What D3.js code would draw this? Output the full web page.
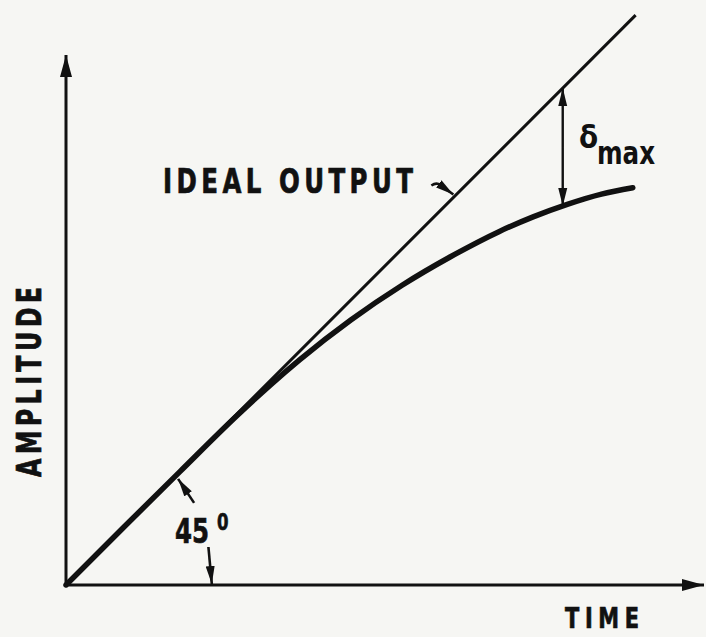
<!DOCTYPE html>
<html>
<head>
<meta charset="utf-8">
<script src="https://cdn.jsdelivr.net/npm/d3@7"></script>
<style>
  body { margin: 0; background: #f6f6f3; }
  svg text { font-family: "DejaVu Sans Condensed", "Liberation Sans Narrow", sans-serif; font-weight: bold; fill: #111; }
</style>
</head>
<body>
<div class="plot-item"></div>
<script>
// time / amplitude in arbitrary units (ideal output is y = x)
var timeVals   = [0, 1, 2, 3, 3.6, 4.1, 5, 5.9, 6.75, 7.6, 8.2, 8.8, 9.4, 9.95];
var actualVals = [0, 1, 1.99, 2.97, 3.52, 3.95, 4.65, 5.26, 5.76, 6.2, 6.46, 6.68, 6.86, 6.97];
var idealTime  = [0, 10];
var axisMax    = {x: 11.2, y: 9.3};
var deltaAt    = 8.72;   // where delta max is measured
var angleAt    = 1.95;   // 45 deg leader on ideal line

var w = 706, h = 637;
var origin = {x: 66, y: 585};

var svg = d3.select(".plot-item").append("svg")
      .attr("width", w)
      .attr("height", h);

var x = d3.scaleLinear().domain([0, axisMax.x]).range([origin.x, 704]);
var y = d3.scaleLinear().domain([0, axisMax.y]).range([origin.y, 55]);

var defs = svg.append("defs");
defs.append("marker")
    .attr("id", "head")
    .attr("markerUnits", "userSpaceOnUse")
    .attr("viewBox", "0 -7 22 14")
    .attr("refX", 22).attr("refY", 0)
    .attr("markerWidth", 22).attr("markerHeight", 14)
    .attr("orient", "auto-start-reverse")
  .append("path")
    .attr("d", "M0,-6L22,0L0,6Z")
    .attr("fill", "#111");
defs.append("marker")
    .attr("id", "small")
    .attr("markerUnits", "userSpaceOnUse")
    .attr("viewBox", "0 -5 18 10")
    .attr("refX", 18).attr("refY", 0)
    .attr("markerWidth", 18).attr("markerHeight", 10)
    .attr("orient", "auto-start-reverse")
  .append("path")
    .attr("d", "M0,-4.5L18,0L0,4.5Z")
    .attr("fill", "#111");

// axes
svg.append("line")
    .attr("x1", x(0)).attr("y1", y(0))
    .attr("x2", x(0)).attr("y2", y(axisMax.y))
    .attr("stroke", "#111").attr("stroke-width", 3)
    .attr("marker-end", "url(#head)");
svg.append("line")
    .attr("x1", x(0)).attr("y1", y(0))
    .attr("x2", x(axisMax.x)).attr("y2", y(0))
    .attr("stroke", "#111").attr("stroke-width", 3)
    .attr("marker-end", "url(#head)");

// ideal output
svg.append("line")
    .attr("x1", x(idealTime[0])).attr("y1", y(idealTime[0]))
    .attr("x2", x(idealTime[1])).attr("y2", y(idealTime[1]))
    .attr("stroke", "#111").attr("stroke-width", 3);

// actual response
var line = d3.line()
      .x(function(d){ return x(d[0]); })
      .y(function(d){ return y(d[1]); })
      .curve(d3.curveMonotoneX);
svg.append("path")
    .datum(d3.zip(timeVals, actualVals))
    .attr("d", line)
    .attr("fill", "none")
    .attr("stroke", "#111")
    .attr("stroke-width", 5.5)
    .attr("stroke-linecap", "round");

// delta max arrow
var actualAt = d3.scaleLinear().domain(timeVals).range(actualVals);
var mid = (deltaAt + actualAt(deltaAt)) / 2;
[deltaAt, actualAt(deltaAt)].forEach(function(v){
  svg.append("line")
      .attr("x1", x(deltaAt)).attr("y1", y(mid))
      .attr("x2", x(deltaAt)).attr("y2", y(v))
      .attr("stroke", "#111").attr("stroke-width", 2.4)
      .attr("marker-end", "url(#small)");
});

// ideal output leader
var lx = x(6.8), ly = y(6.8);
svg.append("path")
    .attr("d", "M" + (lx - 22) + "," + (ly - 12) + "q6,-4 11,1 l11,8")
    .attr("fill", "none").attr("stroke", "#111").attr("stroke-width", 2.6)
    .attr("marker-end", "url(#small)");

// 45 degree leaders
var ax = x(angleAt), ay = y(angleAt);
svg.append("line")
    .attr("x1", ax + 17).attr("y1", ay + 29)
    .attr("x2", ax + 1).attr("y2", ay + 5)
    .attr("stroke", "#111").attr("stroke-width", 2.6)
    .attr("marker-end", "url(#small)");
svg.append("line")
    .attr("x1", x(2.5)).attr("y1", y(0) - 38)
    .attr("x2", x(2.56)).attr("y2", y(0) - 1)
    .attr("stroke", "#111").attr("stroke-width", 2.6)
    .attr("marker-end", "url(#small)");

// labels: narrow lettering, squeezed horizontally then spaced out
function label(tx, ty, rot, size, len, str){
  var sx = 0.8;
  svg.append("text")
      .attr("transform", "translate(" + tx + "," + ty + ") rotate(" + rot + ") scale(" + sx + ",1)")
      .attr("font-size", size)
      .attr("stroke", "#111").attr("stroke-width", 0.7)
      .attr("textLength", len / sx).attr("lengthAdjust", "spacing")
      .text(str);
}
label(163, 193, 0, 34, 250, "IDEAL OUTPUT");
label(565, 628, 0, 29, 74, "TIME");
label(41, 477, -90, 33, 190, "AMPLITUDE");

var deg = svg.append("text")
    .attr("transform", "translate(175,543) scale(0.8,1)")
    .attr("stroke", "#111").attr("stroke-width", 0.6)
    .attr("font-size", 34);
deg.append("tspan").text("45");
deg.append("tspan").attr("dx", 10).attr("dy", -13).attr("font-size", 23).text("0");

var dm = svg.append("text")
    .attr("x", 579).attr("y", 148)
    .attr("font-size", 31);
dm.append("tspan").text("δ");
dm.append("tspan").attr("x", 597).attr("dy", 16).attr("font-size", 32)
    .attr("textLength", 58).attr("lengthAdjust", "spacingAndGlyphs")
    .text("max");
</script>
</body>
</html>
